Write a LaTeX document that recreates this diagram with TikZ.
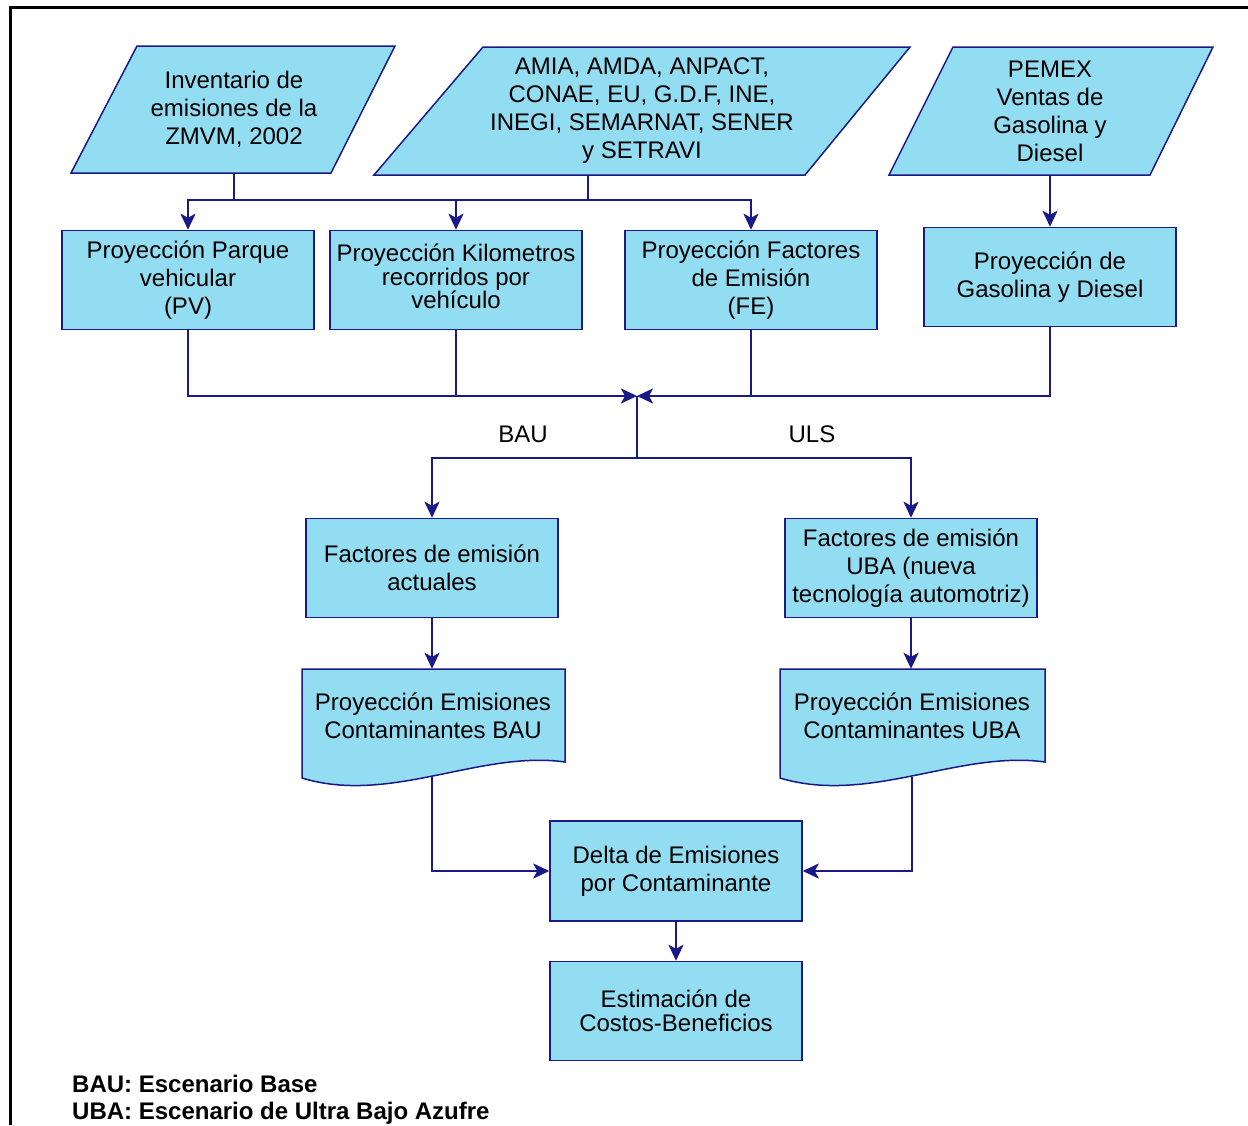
\documentclass[tikz,border=0pt]{standalone}
\usepackage{fontspec}
\setmainfont{Liberation Sans}
\usetikzlibrary{arrows.meta}
\definecolor{celeste}{RGB}{146,221,242}
\definecolor{marino}{RGB}{25,25,135}
\begin{document}
\begin{tikzpicture}[x=1pt, y=-1pt, >={Stealth[length=16pt,width=15pt,inset=4pt]},
    font=\fontsize{24}{28}\selectfont,
    caja/.style={draw=marino, line width=1.5pt, fill=celeste, minimum width=252pt,
        minimum height=99pt, inner sep=0pt, align=center},
    forma/.style={draw=marino, line width=1.5pt, fill=celeste},
    texto/.style={align=center, inner sep=0pt},
    flecha/.style={draw=marino, line width=2.4pt}]
    \useasboundingbox (0,0) rectangle (1248,1125);
    \draw[line width=3pt] (10,1125) -- (10,7) -- (1248,7);

    % entradas
    \draw[forma] (137,46) -- (395,46) -- (331,173) -- (71,173) -- cycle;
    \draw[forma] (483,47) -- (910,47) -- (805,175) -- (374,175) -- cycle;
    \draw[forma] (953,47) -- (1213,47) -- (1150,175) -- (889,175) -- cycle;
    \node[texto, minimum height=127pt] (inv) at (234,109) {Inventario de\\emisiones de la\\ZMVM, 2002};
    \node[texto, minimum height=128pt] (amia) at (642,111) {AMIA, AMDA, ANPACT,\\CONAE, EU, G.D.F, INE,\\INEGI, SEMARNAT, SENER\\y SETRAVI};
    \node[texto, minimum height=128pt] (pemex) at (1050,111) {PEMEX\\Ventas de\\Gasolina y\\Diesel};

    % proyecciones
    \node[caja] (pv) at (188,280) {Proyección Parque\\vehicular\\(PV)};
    \node[caja, font=\fontsize{24}{22}\selectfont] (km) at (456,280) {Proyección Kilometros\\recorridos por\\vehículo\vspace{7pt}};
    \node[caja] (fe) at (751,280) {Proyección Factores\\de Emisión\\(FE)};
    \node[caja] (gas) at (1050,277) {Proyección de\\Gasolina y Diesel};

    \node (bau) at (523,434) {BAU};
    \node (uls) at (812,434) {ULS};

    % escenarios
    \node[caja] (act) at (432,568) {Factores de emisión\\actuales};
    \node[caja] (uba) at (911,568) {Factores de emisión\\UBA (nueva\\tecnología automotriz)};

    \draw[forma] (302,669) -- (565,669) -- (565,762) .. controls (480,750) and (390,805) .. (302,778) -- cycle;
    \draw[forma] (780,669) -- (1045,669) -- (1045,762) .. controls (959,750) and (869,805) .. (780,778) -- cycle;
    \node[texto, minimum width=263pt, minimum height=94pt] (pbau) at (433,716) {Proyección Emisiones\\Contaminantes BAU};
    \node[texto, minimum width=265pt, minimum height=94pt] (puba) at (912,716) {Proyección Emisiones\\Contaminantes UBA};

    \node[caja, minimum height=100pt] (delta) at (676,871) {Delta de Emisiones\\por Contaminante};
    \node[caja, font=\fontsize{24}{24}\selectfont] (costos) at (676,1011) {Estimación de\\Costos-Beneficios};

    % leyenda
    \node[anchor=west, inner sep=0pt, font=\bfseries\fontsize{24}{28}\selectfont] (ley1) at (72,1084) {BAU: Escenario Base};
    \node[anchor=west, inner sep=0pt, font=\bfseries\fontsize{24}{28}\selectfont] (ley2) at (72,1113) {UBA: Escenario de Ultra Bajo Azufre};

    % conectores
    \coordinate (j1) at (234,200);
    \coordinate (m) at (637,396);
    \coordinate (split) at (637,458);
    \coordinate (amia-s) at ([xshift=-54pt]amia.south);
    \coordinate (pbau-s) at ([yshift=-14pt]act.south |- pbau.south);
    \coordinate (puba-s) at ([yshift=-14pt]puba.south);

    \draw[flecha] (inv.south) -- (j1);
    \draw[flecha] (amia-s) -- (amia-s |- j1);
    \draw[flecha, ->] (j1) -| (pv.north);
    \draw[flecha, ->] (j1) -| (km.north);
    \draw[flecha, ->] (j1) -| (fe.north);
    \draw[flecha, ->] (pemex) -- (gas);

    \draw[flecha, ->] (pv.south) |- (m);
    \draw[flecha] (km.south) -- (km.south |- m);
    \draw[flecha] (fe.south) -- (fe.south |- m);
    \draw[flecha, ->] (gas.south) |- (m);

    \draw[flecha] (m) -- (split);
    \draw[flecha, ->] (split) -| (act.north);
    \draw[flecha, ->] (split) -| (uba.north);

    \draw[flecha, ->] (act.south) -- (act.south |- pbau.north);
    \draw[flecha, ->] (uba.south) -- (uba.south |- puba.north);
    \draw[flecha, ->] (pbau-s) |- (delta.west);
    \draw[flecha, ->] (puba-s) |- (delta.east);
    \draw[flecha, ->] (delta) -- (costos);
\end{tikzpicture}
\end{document}
